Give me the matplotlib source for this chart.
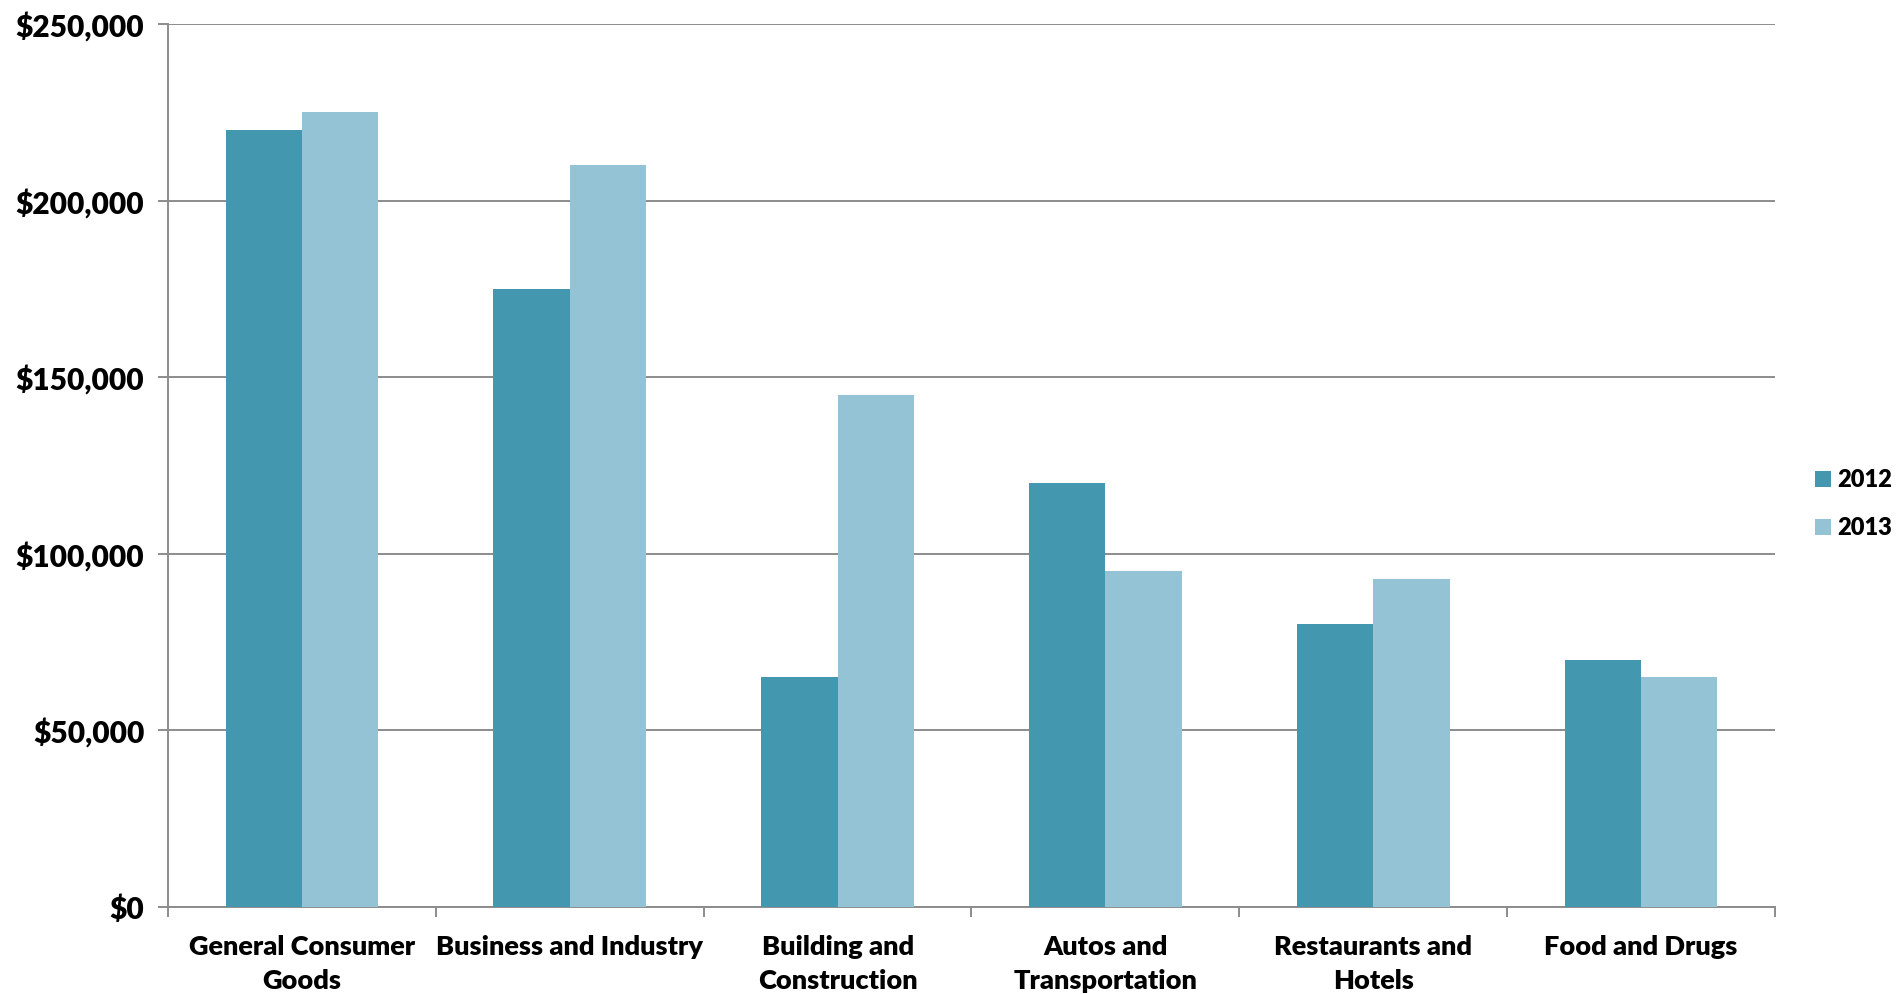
import matplotlib
matplotlib.use("Agg")
import matplotlib.pyplot as plt
import numpy as np
from matplotlib.patches import Patch
from matplotlib.ticker import FuncFormatter, FixedLocator

categories = ["General Consumer\nGoods", "Business and Industry", "Building and\nConstruction",
              "Autos and\nTransportation", "Restaurants and\nHotels", "Food and Drugs"]
series_names = ["2012", "2013"]
values_2012 = [220000, 175000, 65000, 120000, 80000, 70000]
values_2013 = [225000, 210000, 145000, 95000, 93000, 65000]
y_ticks = [0, 50000, 100000, 150000, 200000, 250000]

c2012 = "#4398B0"
c2013 = "#93C3D5"
grid_c = "#8C8C8C"
W = 'heavy'

plt.rcParams['font.family'] = ['Lato', 'DejaVu Sans']
plt.rcParams['font.weight'] = W

fig = plt.figure(figsize=(18.97, 9.94), dpi=100)
ax = fig.add_axes([168/1897, 1-907/994, (1775-168)/1897, (907-24)/994])

x = np.arange(len(categories))
w = 0.285
ax.bar(x - w/2, values_2012, width=w, color=c2012, zorder=3, linewidth=0)
ax.bar(x + w/2, values_2013, width=w, color=c2013, zorder=3, linewidth=0)

ax.set_xlim(-0.5, len(categories) - 0.5)
ax.set_ylim(0, 250000)
ax.yaxis.set_major_locator(FixedLocator(y_ticks))
ax.yaxis.set_major_formatter(FuncFormatter(lambda v, p: "${:,.0f}".format(v)))
ax.grid(axis='y', color=grid_c, linewidth=1.4, zorder=0)
ax.set_axisbelow(True)

ax.set_xticks(np.arange(len(categories) + 1) - 0.5)
ax.set_xticklabels([])
ax.set_xticks(x, minor=True)
ax.set_xticklabels(categories, minor=True, fontsize=19.5, fontweight=W, linespacing=1.5)
ax.tick_params(axis='x', which='minor', length=0, pad=20)
ax.tick_params(axis='x', which='major', length=7, width=1.4, color=grid_c, direction='out')
ax.tick_params(axis='y', length=7, width=1.4, color=grid_c, labelsize=21.5, pad=10)
for lab in ax.get_yticklabels():
    lab.set_fontweight(W)

for s in ['top', 'right']:
    ax.spines[s].set_visible(False)
for s in ['left', 'bottom']:
    ax.spines[s].set_color(grid_c)
    ax.spines[s].set_linewidth(1.4)

handles = [Patch(facecolor=c2012, edgecolor='none'), Patch(facecolor=c2013, edgecolor='none')]
fig.legend(handles, series_names, loc='center left', bbox_to_anchor=(1815/1897, 1-504/994),
           frameon=False, prop={'family': 'Lato', 'weight': W, 'size': 17},
           handlelength=0.68, handleheight=0.68, handletextpad=0.28, labelspacing=1.1,
           borderpad=0.0, borderaxespad=0.0)

fig.savefig("out.png", dpi=100)
